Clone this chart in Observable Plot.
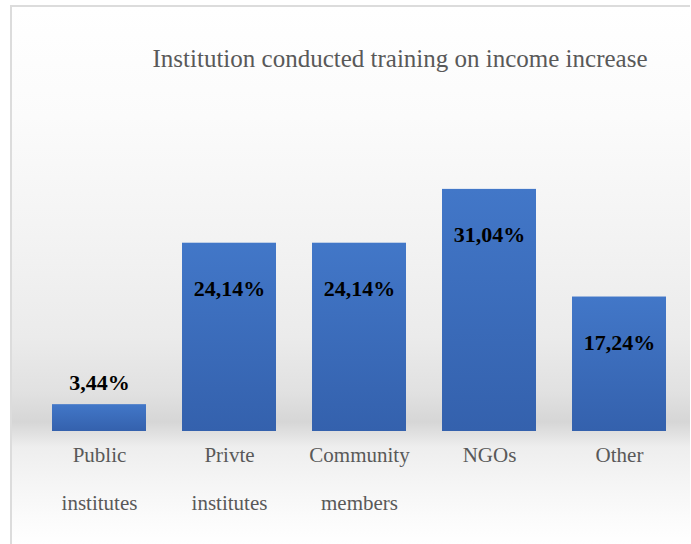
<!DOCTYPE html>
<html>
<head>
<meta charset="utf-8">
<script src="https://cdn.jsdelivr.net/npm/d3@7"></script>
<script src="https://cdn.jsdelivr.net/npm/@observablehq/plot@0.6"></script>
<style>
  html, body { margin: 0; padding: 0; background: #fff; }
  #wrap { position: relative; width: 691px; height: 544px; overflow: hidden; background: #fff; }
  #panel {
    position: absolute; left: 10px; top: 5px; width: 678px; height: 539px;
    border-left: 2px solid #dcdcdc; border-top: 2px solid #dcdcdc;
    background: linear-gradient(to bottom,
      #ffffff 0px, #fbfbfb 110px, #f3f3f3 230px, #ebebeb 330px,
      #e1e1e1 385px, #d6d6d6 415px, #e2e2e2 428px, #eeeeee 440px,
      #f4f4f4 470px, #fbfbfb 510px, #ffffff 539px);
  }
  #title {
    position: absolute; left: 100px; width: 600px; top: 44px;
    text-align: center; font-family: "Liberation Serif", serif;
    font-size: 25px; color: #595959; line-height: 30px;
  }
  #chart { position: absolute; left: 0; top: 100px; }
</style>
</head>
<body>
<div id="wrap">
  <div id="panel"></div>
  <div id="title">Institution conducted training on income increase</div>
  <div id="chart"></div>
</div>
<script>
const categories = ["Public\ninstitutes", "Privte\ninstitutes", "Community\nmembers", "NGOs", "Other"];
const values = [3.44, 24.14, 24.14, 31.04, 17.24];
const valueLabels = ["3,44%", "24,14%", "24,14%", "31,04%", "17,24%"];

const data = categories.map((c, i) => ({category: c, value: values[i], label: valueLabels[i]}));

const plot = Plot.plot({
  width: 691,
  height: 444,
  marginLeft: 33,
  marginRight: 6,
  marginTop: 58,
  marginBottom: 113,
  style: {background: "transparent", overflow: "visible"},
  x: {domain: categories, paddingInner: 0.28, paddingOuter: 0.14, label: null},
  y: {domain: [0, 35], axis: null},
  marks: [
    Plot.barY(data, {x: "category", y: "value", fill: "url(#barGrad)"}),
    Plot.text(data.filter(d => d.value >= 10), {
      x: "category", y: "value", text: "label", dy: 46,
      fontSize: 22, fontWeight: "bold", fill: "#000",
      fontFamily: "Liberation Serif, serif"
    }),
    Plot.text(data.filter(d => d.value < 10), {
      x: "category", y: "value", text: "label", dy: -22,
      fontSize: 22, fontWeight: "bold", fill: "#000",
      fontFamily: "Liberation Serif, serif"
    }),
    Plot.axisX({
      tickSize: 0, tickPadding: -4, fontSize: 21, lineHeight: 2.3,
      fill: "#595959", fontFamily: "Liberation Serif, serif", label: null
    })
  ]
});

const ns = "http://www.w3.org/2000/svg";
const defs = document.createElementNS(ns, "defs");
const grad = document.createElementNS(ns, "linearGradient");
grad.setAttribute("id", "barGrad");
grad.setAttribute("x1", "0"); grad.setAttribute("y1", "0");
grad.setAttribute("x2", "0"); grad.setAttribute("y2", "1");
[["0%", "#4277c8"], ["100%", "#3461ad"]].forEach(([o, c]) => {
  const s = document.createElementNS(ns, "stop");
  s.setAttribute("offset", o); s.setAttribute("stop-color", c);
  grad.appendChild(s);
});
defs.appendChild(grad);
plot.insertBefore(defs, plot.firstChild);

document.getElementById("chart").appendChild(plot);
</script>
</body>
</html>
